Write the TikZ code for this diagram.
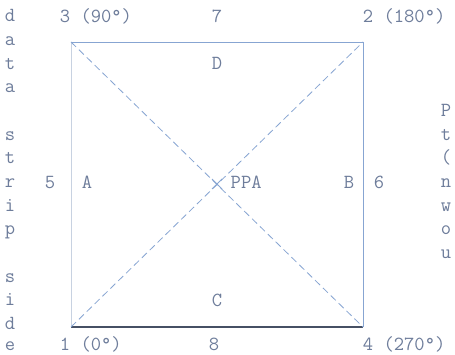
\documentclass[tikz,border=0pt]{standalone}
\usepackage{fontspec}
\usetikzlibrary{calc}
\definecolor{txtc}{RGB}{110,125,155}
\definecolor{linec}{RGB}{135,165,210}
\definecolor{faintc}{RGB}{200,210,225}
\definecolor{darkc}{RGB}{70,80,100}
\tikzset{
  lbl/.style={font=\fontsize{20}{20}\selectfont\ttfamily, text=txtc, inner sep=0pt, anchor=base},
  lblw/.style={lbl, anchor=base west},
  edgelight/.style={draw=linec, line width=0.8pt},
  diag/.style={draw=linec, line width=0.8pt, dash pattern=on 7pt off 4pt},
}
\begin{document}
\begin{tikzpicture}[x=1pt,y=-1pt]
\useasboundingbox (0,0) rectangle (455,355);
\fill[white] (0,0) rectangle (455,355);
% corners
\coordinate (c3) at (71,42);
\coordinate (c2) at (363,42);
\coordinate (c4) at (363,327);
\coordinate (c1) at (71,327);
\coordinate (ppa) at (217,184);
% edges
\draw[edgelight] (c3) -- (c2);
\draw[edgelight] (c2) -- (c4);
\draw[draw=faintc, line width=0.6pt] (c3) -- (c1);
\draw[draw=darkc, line width=1.4pt] (c1) -- (c4);
% diagonals
\draw[diag] (c3) -- (c4);
\draw[diag] (c1) -- (c2);
% centre cross
\draw[draw=linec, line width=0.8pt] ($(ppa)+(-5,-5)$) -- ($(ppa)+(5,5)$);
\draw[draw=linec, line width=0.8pt] ($(ppa)+(-5,5)$) -- ($(ppa)+(5,-5)$);
% top row
\node[lblw] (t3) at (59.75,23) {3 (90°)};
\node[lbl] (t7) at (217,23) {7};
\node[lblw] (t2) at (362.75,23) {2 (180°)};
% D and C
\node[lbl] (nD) at (217,70) {D};
\node[lbl] (nC) at (217,306) {C};
% middle row
\node[lbl] (m5) at (50,189) {5};
\node[lbl] (mA) at (87,189) {A};
\node[lblw] (mPPA) at (230.5,189) {PPA};
\node[lbl] (mB) at (349,189) {B};
\node[lbl] (m6) at (379,189) {6};
% bottom row
\node[lblw] (b1) at (59.75,350) {1 (0°)};
\node[lbl] (b8) at (214,350) {8};
\node[lblw] (b4) at (362.75,350) {4 (270°)};
% left vertical text
\foreach \ch/\i in {d/0,a/1,t/2,a/3,s/5,t/6,r/7,i/8,p/9,s/11,i/12,d/13}{
  \node[lbl] (left\i) at (10,{17+23.64*\i+5}) {\ch};
}
\node[lbl] (left14) at (10,350) {e};
% right column
\foreach \ch/\i in {P/4,t/5,{(}/6,n/7,w/8,o/9,u/10}{
  \node[lbl] (right\i) at (446,{17+23.64*\i+5}) {\ch};
}
\end{tikzpicture}
\end{document}
